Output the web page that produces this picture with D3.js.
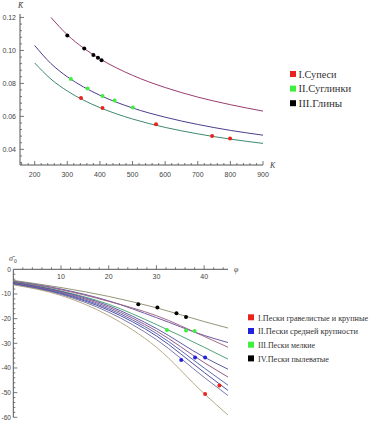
<!DOCTYPE html>
<html><head><meta charset="utf-8">
<script src="https://cdn.jsdelivr.net/npm/d3@7"></script>
<style>body{margin:0;background:#fff}svg{display:block}</style>
</head><body>
<script>
// ---------- Top chart data ----------
const kGrid = [200, 250, 300, 350, 400, 500, 600, 700, 800, 900];
const curveClay = [null, 0.120, 0.1095, 0.1014, 0.0949, 0.0849, 0.0775, 0.0717, 0.0671, 0.0632];
const curveLoam = [0.103, 0.0920, 0.0840, 0.0778, 0.0728, 0.0651, 0.0595, 0.0551, 0.0515, 0.0486];
const curveSandyLoam = [0.0924, 0.0826, 0.0754, 0.0698, 0.0653, 0.0584, 0.0533, 0.0494, 0.0462, 0.0436];
const dotsSandyLoam = [[342, 0.0711], [408, 0.0651], [572, 0.0552], [744, 0.0481], [799, 0.0466]];
const dotsLoam = [[311, 0.0827], [362, 0.0769], [408, 0.0723], [445, 0.0696], [501, 0.0654]];
const dotsClay = [[300, 0.1091], [352, 0.1012], [380, 0.0972], [394, 0.0956], [405, 0.0940]];
const topLegend = ["I.Супеси", "II.Суглинки", "III.Глины"];
const topXTicks = [200, 300, 400, 500, 600, 700, 800, 900];
const topYTicks = [0.04, 0.06, 0.08, 0.10, 0.12];

// ---------- Bottom chart data ----------
const phiGrid = [0, 10, 20, 30, 40, 45];
const bottomCurves = [
  [-4.5, -7.4, -11.0, -15.6, -21.2, -23.8],
  [-4.8, -8.0, -12.8, -19.6, -26.8, -29.7],
  [-5.0, -8.3, -13.0, -18.8, -27.2, -31.6],
  [-5.2, -8.8, -14.2, -22.4, -31.6, -36.4],
  [-5.4, -9.0, -14.8, -24.0, -35.6, -40.5],
  [-5.6, -9.3, -15.4, -25.0, -37.8, -43.7],
  [-5.8, -9.6, -16.0, -26.0, -40.0, -47.0],
  [-6.0, -9.9, -16.6, -27.0, -41.8, -49.1],
  [-6.1, -10.2, -17.4, -28.5, -43.8, -51.2],
  [-6.3, -10.6, -18.8, -31.6, -50.4, -59.1]
];
const bottomColors = ["#8a8a6a", "#5a4a9a", "#995a7a", "#3d9a6a", "#4a4aa0", "#8a4a7a", "#4a5aaa", "#3d3d99", "#6a6aa0", "#b0a07a"];
const dotsI = [[40.2, -50.6], [43.2, -47.1]];
const dotsII = [[35.2, -36.8], [38.1, -35.8], [40.2, -35.8]];
const dotsIII = [[32.2, -24.6], [36.2, -24.8], [38.0, -25.0]];
const dotsIV = [[26.2, -14.2], [30.2, -15.5], [34.2, -17.8], [36.2, -19.3]];
const bottomLegend = ["I.Пески гравелистые и крупные", "II.Пески средней крупности", "III.Пески мелкие", "IV.Пески пылеватые"];
const botXTicks = [10, 20, 30, 40];
const botYTicks = [0, -10, -20, -30, -40, -50, -60];

const svg = d3.select("body").append("svg").attr("width", 378).attr("height", 423);
const tickFont = "Liberation Sans, Arial, sans-serif";
const serif = "Liberation Serif, Times New Roman, serif";
const axisCol = "#555";

// ===== TOP CHART =====
const xT = d3.scaleLinear().domain([155, 900]).range([20, 263]);
const yT = d3.scaleLinear().domain([0.0305, 0.1221]).range([165, 14]);
const gT = svg.append("g");
gT.append("line").attr("x1", xT(155)).attr("x2", xT(900)).attr("y1", 165).attr("y2", 165).attr("stroke", axisCol);
gT.append("line").attr("x1", 20).attr("x2", 20).attr("y1", yT(0.1221)).attr("y2", 165).attr("stroke", axisCol);
d3.range(160, 901, 20).forEach(v => {
  const major = v % 100 === 0;
  gT.append("line").attr("x1", xT(v)).attr("x2", xT(v)).attr("y1", 165).attr("y2", 165 - (major ? 4 : 2)).attr("stroke", axisCol).attr("stroke-width", 0.8);
});
topXTicks.forEach(v => gT.append("text").attr("x", xT(v)).attr("y", 177).attr("text-anchor", "middle").attr("font-size", 7).attr("font-family", tickFont).attr("fill", "#444").text(v));
d3.range(0.032, 0.1221, 0.004).forEach(v => {
  const major = Math.abs(v * 50 - Math.round(v * 50)) < 1e-6;
  gT.append("line").attr("x1", 20).attr("x2", 20 + (major ? 4 : 2)).attr("y1", yT(v)).attr("y2", yT(v)).attr("stroke", axisCol).attr("stroke-width", 0.8);
});
topYTicks.forEach(v => gT.append("text").attr("x", 16).attr("y", yT(v) + 2.5).attr("text-anchor", "end").attr("font-size", 7).attr("font-family", tickFont).attr("fill", "#444").text(v.toFixed(2)));
gT.append("text").attr("x", 18).attr("y", 8).attr("font-size", 8).attr("font-style", "italic").attr("font-family", serif).attr("fill", "#444").text("K̄");
gT.append("text").attr("x", 270).attr("y", 168).attr("font-size", 8).attr("font-style", "italic").attr("font-family", serif).attr("fill", "#444").text("K");

const lineT = d3.line().defined(d => d[1] !== null).x(d => xT(d[0])).y(d => yT(d[1])).curve(d3.curveMonotoneX);
[[curveClay, "#993d71"], [curveLoam, "#4d3d8f"], [curveSandyLoam, "#3d8a70"]].forEach(([c, col]) => {
  gT.append("path").attr("d", lineT(kGrid.map((k, i) => [k, c[i]]))).attr("fill", "none").attr("stroke", col).attr("stroke-width", 1);
});
[[dotsSandyLoam, "#e8241c"], [dotsLoam, "#3ef03e"], [dotsClay, "#000"]].forEach(([ds, col]) => {
  ds.forEach(d => gT.append("circle").attr("cx", xT(d[0])).attr("cy", yT(d[1])).attr("r", 2).attr("fill", col));
});
const topLegCols = ["#e8241c", "#3ef03e", "#000"];
const topLegW = [38, 52.7, 43.7];
topLegend.forEach((t, i) => {
  const y = 74 + i * 14.6;
  gT.append("rect").attr("x", 290).attr("y", y - 3).attr("width", 6).attr("height", 6).attr("fill", topLegCols[i]);
  gT.append("text").attr("x", 298.5).attr("y", y + 3.5).attr("font-size", 10).attr("font-family", serif).attr("fill", "#333")
    .attr("textLength", topLegW[i]).attr("lengthAdjust", "spacingAndGlyphs").text(t);
});

// ===== BOTTOM CHART =====
const xB = d3.scaleLinear().domain([0, 45]).range([13.3, 228]);
const yB = d3.scaleLinear().domain([0, -60]).range([269.3, 417.3]);
const gB = svg.append("g");
gB.append("line").attr("x1", xB(0)).attr("x2", xB(45)).attr("y1", yB(0)).attr("y2", yB(0)).attr("stroke", axisCol);
gB.append("line").attr("x1", xB(0)).attr("x2", xB(0)).attr("y1", yB(0)).attr("y2", yB(-60)).attr("stroke", axisCol);
d3.range(2, 45, 2).forEach(v => {
  const major = v % 10 === 0;
  gB.append("line").attr("x1", xB(v)).attr("x2", xB(v)).attr("y1", yB(0)).attr("y2", yB(0) - (major ? 4 : 2)).attr("stroke", axisCol).attr("stroke-width", 0.8);
});
botXTicks.forEach(v => gB.append("text").attr("x", xB(v)).attr("y", 279).attr("text-anchor", "middle").attr("font-size", 7).attr("font-family", tickFont).attr("fill", "#444").text(v));
d3.range(-2, -61, -2).forEach(v => {
  const major = v % 10 === 0;
  gB.append("line").attr("x1", xB(0)).attr("x2", xB(0) + (major ? 4 : 2)).attr("y1", yB(v)).attr("y2", yB(v)).attr("stroke", axisCol).attr("stroke-width", 0.8);
});
botYTicks.forEach(v => gB.append("text").attr("x", 11).attr("y", yB(v) + 2.5).attr("text-anchor", "end").attr("font-size", 6.6).attr("font-family", tickFont).attr("fill", "#444").text(v === 0 ? "0" : "-" + Math.abs(v)));
gB.append("text").attr("x", 9).attr("y", 261).attr("font-size", 8).attr("font-style", "italic").attr("font-family", serif).attr("fill", "#444").text("σ̄");
gB.append("text").attr("x", 14).attr("y", 263).attr("font-size", 5.5).attr("font-family", serif).attr("fill", "#444").text("0");
gB.append("text").attr("x", 234).attr("y", 272).attr("font-size", 8).attr("font-style", "italic").attr("font-family", serif).attr("fill", "#444").text("φ");

const lineB = d3.line().x(d => xB(d[0])).y(d => yB(d[1])).curve(d3.curveMonotoneX);
bottomCurves.forEach((c, i) => {
  gB.append("path").attr("d", lineB(phiGrid.map((p, j) => [p, c[j]]))).attr("fill", "none").attr("stroke", bottomColors[i]).attr("stroke-width", 0.9);
});
const botLegCols = ["#e8241c", "#2222dd", "#3ef03e", "#000"];
[dotsI, dotsII, dotsIII, dotsIV].forEach((ds, i) => {
  ds.forEach(d => gB.append("circle").attr("cx", xB(d[0])).attr("cy", yB(d[1])).attr("r", 2).attr("fill", botLegCols[i]));
});
const botLegW = [110, 100, 57, 71];
bottomLegend.forEach((t, i) => {
  const y = 317.3 + i * 13.7;
  gB.append("rect").attr("x", 248).attr("y", y - 3).attr("width", 6).attr("height", 6).attr("fill", botLegCols[i]);
  gB.append("text").attr("x", 258).attr("y", y + 3.3).attr("font-size", 8.4).attr("font-family", serif).attr("fill", "#333")
    .attr("textLength", botLegW[i]).attr("lengthAdjust", "spacingAndGlyphs").text(t);
});
</script>
</body></html>
